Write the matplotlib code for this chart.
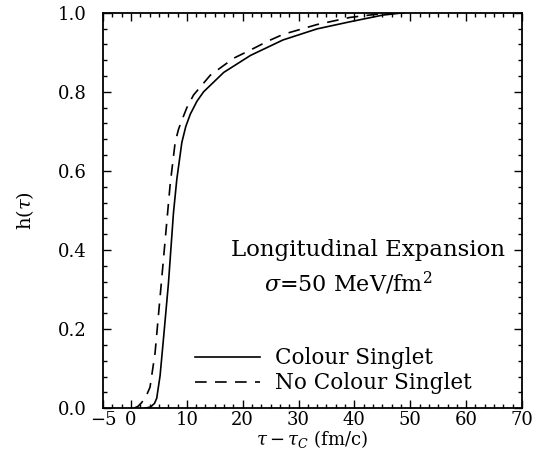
import numpy as np
import matplotlib
matplotlib.use('Agg')
import matplotlib.pyplot as plt
from matplotlib.ticker import MultipleLocator, FixedLocator, FormatStrFormatter

plt.rcParams['font.family'] = ['DejaVu Serif']
plt.rcParams['mathtext.fontset'] = 'dejavuserif'

# curves
tau_singlet = [2.5, 3.5, 4.2, 4.6, 5.2, 5.8, 6.7, 7.6, 8.2, 9.1, 9.8, 10.6, 11.8,
               13.0, 16.6, 21.4, 27.2, 33.3, 39.2, 45.1, 49.0]
h_singlet = [0.0, 0.003, 0.012, 0.025, 0.082, 0.174, 0.316, 0.494, 0.579,
             0.672, 0.712, 0.743, 0.776, 0.80, 0.849, 0.892, 0.931, 0.959,
             0.977, 0.994, 1.0]

tau_nosinglet = [0.5, 1.2, 1.9, 2.7, 3.4, 4.3, 5.2, 6.1, 7.0, 7.9, 8.5, 9.1,
                 10.0, 11.2, 14.2, 18.4, 21.3, 24.5, 27.2, 33.3, 39.2, 45.1, 49.0]
h_nosinglet = [0.0, 0.004, 0.014, 0.03, 0.053, 0.139, 0.281, 0.423, 0.565,
               0.672, 0.705, 0.728, 0.760, 0.792, 0.842, 0.885, 0.905, 0.928,
               0.945, 0.970, 0.988, 0.998, 1.0]

xticks = [-5, 0, 10, 20, 30, 40, 50, 60, 70]
yticks = [0.0, 0.2, 0.4, 0.6, 0.8, 1.0]

fig = plt.figure(figsize=(5.37, 4.53), dpi=100)
ax = fig.add_axes([0.192, 0.099, 0.78, 0.873])

ax.plot(tau_singlet, h_singlet, 'k-', lw=1.2, label='Colour Singlet')
ax.plot(tau_nosinglet, h_nosinglet, 'k--', lw=1.2, dashes=(7, 5),
        label='No Colour Singlet')

ax.set_xlim(-5, 70)
ax.set_ylim(0, 1.0)
ax.xaxis.set_major_locator(FixedLocator(xticks))
ax.xaxis.set_minor_locator(MultipleLocator(10 / 6))
ax.yaxis.set_major_locator(FixedLocator(yticks))
ax.yaxis.set_minor_locator(MultipleLocator(0.04))
ax.yaxis.set_major_formatter(FormatStrFormatter('%.1f'))
ax.tick_params(which='both', direction='in', top=True, right=True,
               labelsize=13, width=1.0)
ax.tick_params(axis='y', which='major', pad=12)
ax.tick_params(axis='x', which='major', pad=2)
ax.tick_params(which='major', length=6)
ax.tick_params(which='minor', length=3)
for s in ax.spines.values():
    s.set_linewidth(1.3)

ax.set_xlabel(r'$\tau-\tau_C$ (fm/c)', fontsize=13)
ax.xaxis.set_label_coords(0.5, -0.05)
ax.set_ylabel(r'h($\tau$)', fontsize=14)
ax.yaxis.set_label_coords(-0.16, 0.5)

ax.text(0.96, 0.40, 'Longitudinal Expansion', fontsize=16.5,
        transform=ax.transAxes, ha='right', va='center')
ax.text(0.585, 0.315, r'$\sigma$=50 MeV/fm$^2$', fontsize=16,
        transform=ax.transAxes, ha='center', va='center')

ax.legend(loc='lower left', bbox_to_anchor=(0.22, 0.035), frameon=False,
          fontsize=15.5, handlelength=3.0, handletextpad=0.7,
          borderpad=0, borderaxespad=0, labelspacing=0.15)

plt.savefig('out.png', dpi=100)
